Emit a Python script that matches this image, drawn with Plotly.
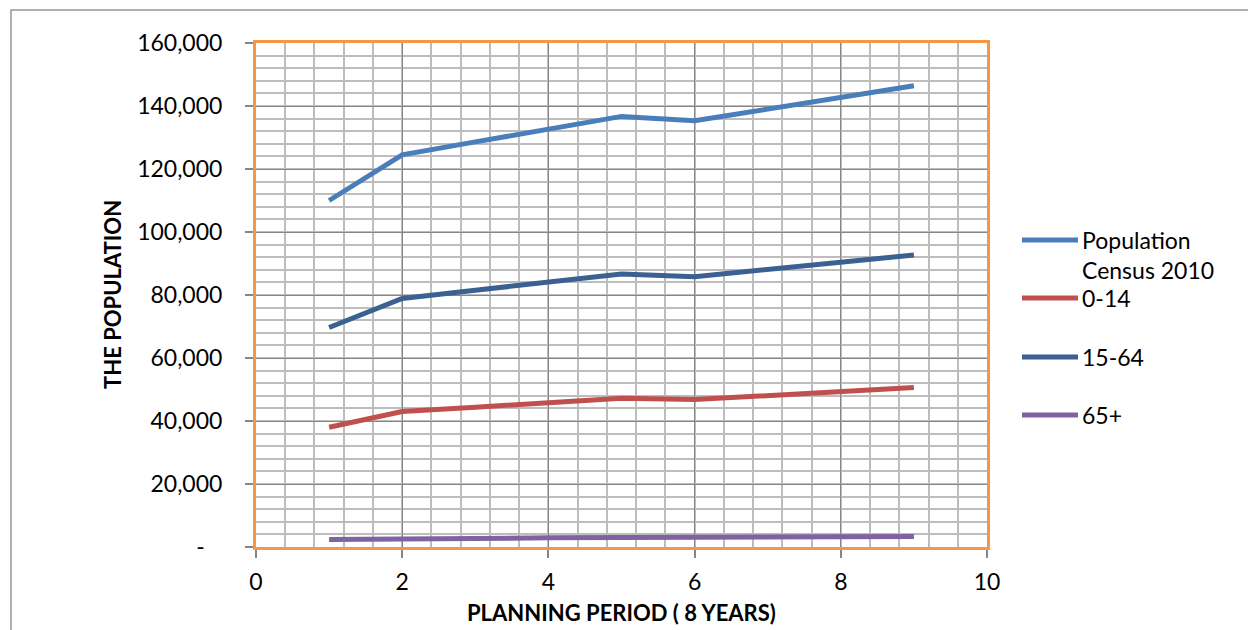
import plotly.graph_objects as go

# Planning periods and projected population per age group
periods = [1, 2, 3, 4, 5, 6, 7, 8, 9]
series_names = ["Population<br>Census 2010", "0-14", "15-64", "65+"]
pop_total = [110000, 124500, 128600, 132600, 136700, 135300, 139000, 142700, 146400]
pop_0_14 = [38000, 43000, 44400, 45800, 47200, 46800, 48100, 49400, 50600]
pop_15_64 = [69700, 78900, 81500, 84100, 86700, 85800, 88100, 90400, 92700]
pop_65_plus = [2400, 2700, 2800, 2900, 3000, 3000, 3100, 3200, 3300]
y_ticks = [0, 20000, 40000, 60000, 80000, 100000, 120000, 140000, 160000]
y_tick_text = ["-\u00a0\u00a0\u00a0"] + [f"{v:,}" for v in y_ticks[1:]]
x_ticks = [0, 2, 4, 6, 8, 10]

colors = ["#4A7EBB", "#C0504D", "#3A6192", "#7F62A1"]
values = [pop_total, pop_0_14, pop_15_64, pop_65_plus]

W, H = 1248, 630
L, R, T, B = 256, 987, 43, 547  # plot area in pixels


def px_x(p):
    return (p - L) / (R - L)


def px_y(p):
    return (B - p) / (B - T)


FONT = "Lato, Carlito, Calibri, sans-serif"

fig = go.Figure()
for name, vals, col in zip(series_names, values, colors):
    fig.add_trace(go.Scatter(
        x=periods, y=vals, mode="lines", name=name.replace("<br>", " "),
        line=dict(color=col, width=5), showlegend=False,
    ))

# Legend drawn as line keys with labels on the right side
legend_rows = [240, 298, 357, 415]
shapes = []
annotations = []
for name, col, yy in zip(series_names, colors, legend_rows):
    shapes.append(dict(type="line", xref="paper", yref="paper",
                       x0=px_x(1022), x1=px_x(1078), y0=px_y(yy), y1=px_y(yy),
                       line=dict(color=col, width=5)))
    annotations.append(dict(
        xref="paper", yref="paper", x=px_x(1080), y=px_y(yy - 16),
        xanchor="left", yanchor="top", text=name, showarrow=False, align="left",
        font=dict(family=FONT, size=23, color="#000000"),
    ))

# Outer chart frame
shapes.append(dict(type="rect", xref="paper", yref="paper",
                   x0=px_x(11), x1=px_x(1260), y0=px_y(640), y1=px_y(10),
                   line=dict(color="#969696", width=1.5), layer="below"))

annotations.append(dict(xref="paper", yref="paper", x=px_x(112), y=0.5,
                        xanchor="center", yanchor="middle",
                        text="<b>THE POPULATION</b>", textangle=-90, showarrow=False,
                        font=dict(family=FONT, size=22, color="#000000")))
annotations.append(dict(xref="paper", yref="paper", x=0.5, y=px_y(612),
                        xanchor="center", yanchor="middle",
                        text="<b>PLANNING PERIOD ( 8 YEARS)</b>", showarrow=False,
                        font=dict(family=FONT, size=22, color="#000000")))

axis_common = dict(
    showline=True, mirror=True, linecolor="#F79646", linewidth=3,
    ticks="outside", ticklen=8, tickcolor="#868686", tickwidth=1.5,
    showgrid=True, gridcolor="#868686", gridwidth=1,
    zeroline=False,
    tickfont=dict(family=FONT, size=23, color="#000000"),
)

fig.update_xaxes(range=[0, 10], tickvals=x_ticks,
                 minor=dict(dtick=0.4, tick0=0, showgrid=True, gridcolor="#BDBDBD", gridwidth=1.6),
                 ticklabelstandoff=4, **axis_common)
fig.update_yaxes(range=[0, 160000], tickvals=y_ticks, ticktext=y_tick_text,
                 minor=dict(dtick=4000, tick0=0, showgrid=True, gridcolor="#BDBDBD", gridwidth=1.6),
                 ticklabelstandoff=18, **axis_common)

fig.update_layout(
    width=W, height=H,
    margin=dict(l=L, r=W - R, t=T, b=H - B, autoexpand=False),
    paper_bgcolor="#FFFFFF", plot_bgcolor="#FFFFFF",
    shapes=shapes, annotations=annotations,
    showlegend=False,
)

fig.write_html("out.html")
